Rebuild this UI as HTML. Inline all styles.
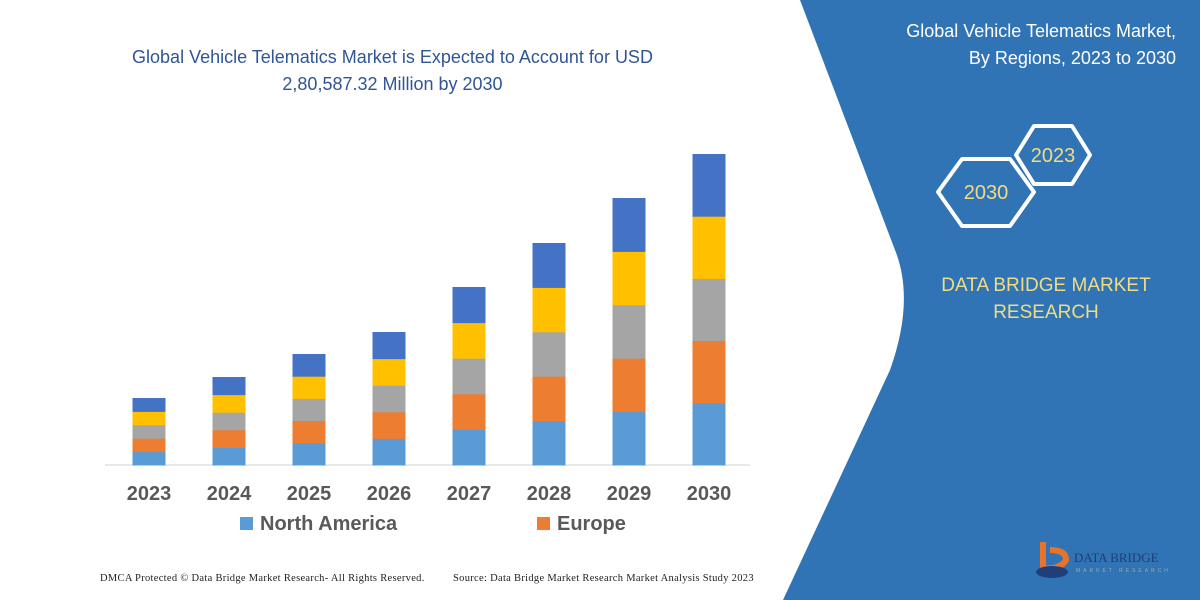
<!DOCTYPE html>
<html><head><style>
body{margin:0;width:1200px;height:600px;overflow:hidden;background:#fff;font-family:"Liberation Sans",sans-serif;position:relative}
.t{position:absolute;white-space:nowrap}
</style></head><body>
<svg width="1200" height="600" style="position:absolute;left:0;top:0">
<path d="M800,0 L1200,0 L1200,600 L783,600 L890,370 Q915,300 895,250 L800,0 Z" fill="#3074b6"/>
<line x1="105" y1="465" x2="750" y2="465" stroke="#d0d0d0" stroke-width="1"/>
<g id="bars"></g>
<polygon points="938,192 962,159 1010,159 1034,192 1010,226 962,226" fill="none" stroke="#fff" stroke-width="4" stroke-linejoin="round"/>
<polygon points="1016,155 1034,126 1072,126 1090,155 1072,184 1034,184" fill="none" stroke="#fff" stroke-width="4" stroke-linejoin="round"/>
<text x="986" y="199" font-size="20" fill="#f0dc82" text-anchor="middle">2030</text>
<text x="1053" y="162" font-size="20" fill="#f0dc82" text-anchor="middle">2023</text>
<text x="1046" y="291" font-size="19" fill="#f0dc82" text-anchor="middle">DATA BRIDGE MARKET</text>
<text x="1046" y="318" font-size="19" fill="#f0dc82" text-anchor="middle">RESEARCH</text>
<path d="M1043,542 L1043,568 Q1060,570 1066,560 Q1066,550 1050,550" fill="none" stroke="#e8742a" stroke-width="6"/>
<ellipse cx="1052" cy="572" rx="16" ry="6" fill="#1f3f7a"/>
<text x="1074" y="562" font-size="13" fill="#1c3f77" font-family="Liberation Serif">DATA BRIDGE</text>
<text x="1076" y="572" font-size="5" fill="#9aa" letter-spacing="3">MARKET RESEARCH</text>
</svg>
<div class="t" style="left:95px;top:44px;font-size:18px;color:#2f5597;width:595px;text-align:center;white-space:normal;line-height:27px">Global Vehicle Telematics Market is Expected to Account for USD 2,80,587.32 Million by 2030</div>
<div class="t" style="right:24px;top:18px;font-size:18px;color:#fff;text-align:right;line-height:27px">Global Vehicle Telematics Market,<br>By Regions, 2023 to 2030</div>
<div id="labels"></div>
<div class="t" style="left:240px;top:513px;font-size:20px;font-weight:bold;color:#595959"><span style="display:inline-block;width:13px;height:13px;background:#5b9bd5;margin-right:7px"></span>North America</div>
<div class="t" style="left:537px;top:513px;font-size:20px;font-weight:bold;color:#595959"><span style="display:inline-block;width:13px;height:13px;background:#ed7d31;margin-right:7px"></span>Europe</div>
<div class="t" style="left:100px;top:573px;font-size:10.5px;letter-spacing:0.3px;color:#222;font-family:'Liberation Serif',serif">DMCA Protected © Data Bridge Market Research- All Rights Reserved.</div>
<div class="t" style="left:453px;top:573px;font-size:10.5px;letter-spacing:0.3px;color:#222;font-family:'Liberation Serif',serif">Source: Data Bridge Market Research Market Analysis Study 2023</div>
<script>
var tops=[398,377,354,332,287,243,198,154],cols=['#5b9bd5','#ed7d31','#a5a5a5','#ffc000','#4472c4'];
var g=document.getElementById('bars'),s='',l='';
tops.forEach(function(t,i){var cx=149+80*i,h=(465-t)/5;
for(var k=0;k<5;k++){s+='<rect x="'+(cx-16.5)+'" y="'+(465-h*(k+1))+'" width="33" height="'+(h+0.5)+'" fill="'+cols[k]+'"/>';}
l+='<div class="t" style="left:'+(cx-30)+'px;width:60px;text-align:center;top:483px;font-size:20px;font-weight:bold;color:#595959">'+(2023+i)+'</div>';});
g.innerHTML=s;document.getElementById('labels').innerHTML=l;
</script>
</body></html>
